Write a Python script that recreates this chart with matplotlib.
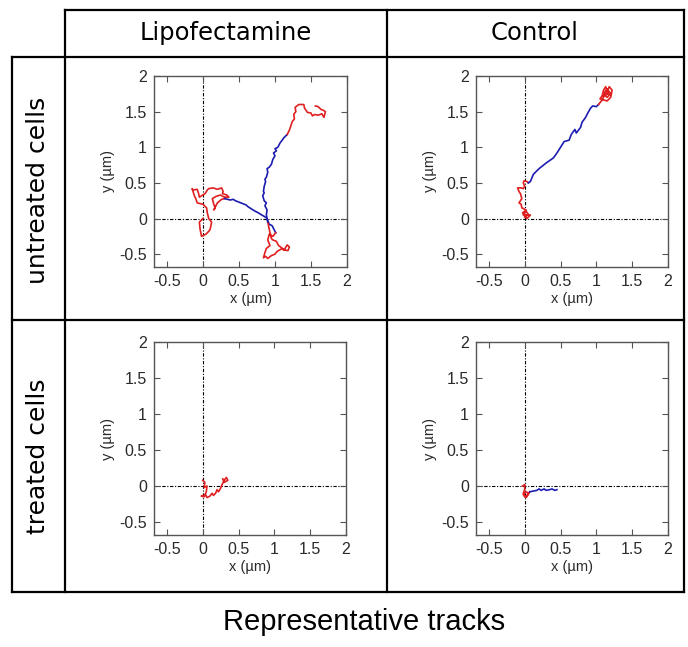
import matplotlib.pyplot as plt
from matplotlib.lines import Line2D
import numpy as np

plt.rcParams['axes.unicode_minus'] = False

# column / row headers
col_labels = ['Lipofectamine', 'Control']
row_labels = ['untreated cells', 'treated cells']
caption = 'Representative tracks'

RED = '#e02020'
BLUE = '#1c1cb0'

# tracks: list of (color, x, y) segments for each panel
# Lipofectamine, untreated
tl_red1_x = [0.0, -0.05, -0.04, -0.02, 0.04, 0.08, 0.1, 0.12, 0.08, 0.06, 0.05, 0.0, -0.08, -0.1, -0.12, -0.15, -0.14, -0.08, -0.06, -0.05, 0.03, 0.06, 0.08, 0.14, 0.2, 0.26, 0.28, 0.27, 0.33, 0.36, 0.3, 0.24, 0.18, 0.13, 0.15, 0.17, 0.15, 0.2, 0.26, 0.3]
tl_red1_y = [0.0, -0.05, -0.15, -0.25, -0.22, -0.18, -0.15, -0.05, 0.0, 0.08, 0.15, 0.2, 0.22, 0.28, 0.32, 0.42, 0.4, 0.41, 0.35, 0.3, 0.35, 0.4, 0.42, 0.43, 0.41, 0.43, 0.38, 0.35, 0.33, 0.3, 0.3, 0.33, 0.31, 0.28, 0.2, 0.15, 0.12, 0.22, 0.27, 0.28]
tl_blue1_x = [0.3, 0.34, 0.38, 0.42, 0.45, 0.5, 0.55, 0.6, 0.62, 0.68, 0.73, 0.77, 0.8, 0.85, 0.88, 0.9, 0.92, 0.96, 0.98, 1.01]
tl_blue1_y = [0.28, 0.27, 0.26, 0.27, 0.25, 0.23, 0.21, 0.19, 0.17, 0.13, 0.1, 0.08, 0.06, 0.03, 0.01, -0.03, -0.08, -0.1, -0.14, -0.2]
tl_red2_x = [1.01, 0.97, 0.92, 0.9, 0.93, 0.88, 0.86, 0.84, 0.87, 0.9, 0.95, 1.0, 1.03, 1.05, 1.1, 1.13, 1.15, 1.17, 1.2, 1.18, 1.12, 1.08, 1.05, 1.02, 0.97, 0.95, 0.92, 0.9]
tl_red2_y = [-0.2, -0.25, -0.22, -0.3, -0.38, -0.42, -0.48, -0.55, -0.53, -0.56, -0.52, -0.5, -0.46, -0.45, -0.42, -0.44, -0.4, -0.37, -0.4, -0.45, -0.44, -0.4, -0.38, -0.32, -0.3, -0.28, -0.15, -0.05]
tl_blue2_x = [0.9, 0.88, 0.89, 0.86, 0.88, 0.85, 0.83, 0.85, 0.84, 0.85, 0.87, 0.86, 0.88, 0.9, 0.89, 0.92, 0.95, 0.97, 1.0, 0.98, 1.02, 1.0, 1.04, 1.07, 1.1, 1.12, 1.15, 1.17]
tl_blue2_y = [-0.05, 0.05, 0.12, 0.18, 0.22, 0.25, 0.32, 0.36, 0.38, 0.45, 0.52, 0.55, 0.58, 0.65, 0.7, 0.72, 0.76, 0.83, 0.88, 0.92, 0.95, 0.98, 1.0, 1.06, 1.1, 1.13, 1.16, 1.18]
tl_red3_x = [1.17, 1.2, 1.22, 1.24, 1.27, 1.26, 1.29, 1.28, 1.33, 1.4, 1.41, 1.43, 1.45, 1.5, 1.52, 1.55, 1.6, 1.65, 1.68, 1.7, 1.67, 1.64, 1.6, 1.56]
tl_red3_y = [1.18, 1.24, 1.3, 1.36, 1.4, 1.46, 1.5, 1.56, 1.6, 1.6, 1.55, 1.52, 1.49, 1.48, 1.44, 1.46, 1.45, 1.47, 1.42, 1.5, 1.52, 1.53, 1.57, 1.58]

# Control, untreated
tr_red1_x = [0.0, 0.05, 0.02, -0.02, 0.08, 0.03, -0.03, 0.02, -0.04, -0.05, -0.08, -0.04, -0.06, -0.08, -0.1, -0.05, -0.02, 0.0, -0.02, -0.01, 0.03, 0.05]
tr_red1_y = [0.02, 0.06, 0.1, 0.05, 0.05, 0.0, 0.08, 0.12, 0.15, 0.2, 0.22, 0.28, 0.35, 0.38, 0.43, 0.43, 0.42, 0.45, 0.5, 0.53, 0.52, 0.5]
tr_blue_x = [0.05, 0.08, 0.12, 0.2, 0.3, 0.4, 0.45, 0.5, 0.55, 0.62, 0.65, 0.7, 0.72, 0.78, 0.8, 0.85, 0.88, 0.92, 0.95, 1.0, 1.03]
tr_blue_y = [0.5, 0.52, 0.62, 0.7, 0.78, 0.85, 0.92, 1.0, 1.08, 1.1, 1.18, 1.25, 1.2, 1.28, 1.35, 1.42, 1.48, 1.55, 1.58, 1.57, 1.6]
tr_red2_x = [1.03, 1.07, 1.1, 1.12, 1.15, 1.18, 1.2, 1.15, 1.12, 1.17, 1.13, 1.1, 1.08, 1.05, 1.15, 1.2, 1.22, 1.18, 1.14, 1.1]
tr_red2_y = [1.6, 1.65, 1.7, 1.78, 1.82, 1.78, 1.75, 1.7, 1.73, 1.75, 1.85, 1.8, 1.72, 1.68, 1.65, 1.7, 1.8, 1.85, 1.76, 1.72]

# Lipofectamine, treated
bl_red_x = [0.0, 0.03, 0.02, 0.06, 0.05, 0.02, -0.02, 0.04, 0.06, 0.1, 0.13, 0.15, 0.18, 0.2, 0.22, 0.25, 0.27, 0.3, 0.33, 0.35, 0.3, 0.28]
bl_red_y = [0.08, 0.05, -0.02, 0.0, -0.08, -0.15, -0.14, -0.12, -0.16, -0.14, -0.1, -0.13, -0.1, -0.05, -0.08, -0.03, 0.02, 0.08, 0.12, 0.08, 0.05, 0.1]

# Control, treated
br_red_x = [-0.03, 0.0, 0.0, -0.02, 0.0, 0.03, 0.05, 0.02, -0.02, 0.02, 0.05, 0.07]
br_red_y = [0.0, 0.02, -0.05, -0.1, -0.15, -0.13, -0.1, -0.08, -0.12, -0.16, -0.12, -0.08]
br_blue_x = [0.07, 0.12, 0.17, 0.2, 0.23, 0.27, 0.3, 0.35, 0.38, 0.42, 0.45]
br_blue_y = [-0.08, -0.07, -0.06, -0.04, -0.06, -0.04, -0.06, -0.05, -0.04, -0.06, -0.05]

panels = [
    [(RED, tl_red1_x, tl_red1_y), (BLUE, tl_blue1_x, tl_blue1_y), (RED, tl_red2_x, tl_red2_y),
     (BLUE, tl_blue2_x, tl_blue2_y), (RED, tl_red3_x, tl_red3_y)],
    [(RED, tr_red1_x, tr_red1_y), (BLUE, tr_blue_x, tr_blue_y), (RED, tr_red2_x, tr_red2_y)],
    [(RED, bl_red_x, bl_red_y)],
    [(RED, br_red_x, br_red_y), (BLUE, br_blue_x, br_blue_y)],
]

ticks = [-0.5, 0, 0.5, 1, 1.5, 2]
tick_labels = ['-0.5', '0', '0.5', '1', '1.5', '2']

W, H = 688, 647
fig = plt.figure(figsize=(W / 100, H / 100), dpi=100)

# axes boxes in pixels: left, top, right, bottom
boxes = [(154, 76, 347, 267), (476, 76, 668, 267), (154, 342, 346, 535), (476, 342, 668, 535)]

for (l, t, r, b), tracks in zip(boxes, panels):
    ax = fig.add_axes([l / W, 1 - b / H, (r - l) / W, (b - t) / H])
    ax.axhline(0, color='black', lw=0.8, ls=(0, (3, 1.5, 1, 1.5)), zorder=1)
    ax.axvline(0, color='black', lw=0.8, ls=(0, (3, 1.5, 1, 1.5)), zorder=1)
    for c, xs, ys in tracks:
        ax.plot(xs, ys, color=c, lw=1.2, zorder=3)
    ax.set_xlim(-0.68, 2)
    ax.set_ylim(-0.68, 2)
    ax.set_xticks(ticks, tick_labels)
    ax.set_yticks(ticks, tick_labels)
    ax.tick_params(direction='in', length=4, width=0.8, top=True, right=True,
                   labelsize=11.5, colors='#555555', labelcolor='#2a2a2a', pad=5)
    for s in ax.spines.values():
        s.set_color('#555555')
        s.set_linewidth(1.0)
    ax.set_xlabel('x (\u00b5m)', fontsize=10.5, color='#2a2a2a', labelpad=2, family='Liberation Sans')
    ax.set_ylabel('y (\u00b5m)', fontsize=10.5, color='#2a2a2a', labelpad=3, family='Liberation Sans')
    for lab in ax.get_xticklabels() + ax.get_yticklabels():
        lab.set_family('Liberation Sans')

# table grid
def hline(y, x0, x1):
    fig.add_artist(Line2D([x0 / W, x1 / W], [1 - y / H, 1 - y / H], color='black', lw=1.6))

def vline(x, y0, y1):
    fig.add_artist(Line2D([x / W, x / W], [1 - y0 / H, 1 - y1 / H], color='black', lw=1.6))

hline(10, 65, 684)
hline(57, 12, 684)
hline(320, 12, 684)
hline(592, 12, 684)
vline(12, 57, 592)
vline(65, 10, 592)
vline(387, 10, 592)
vline(684, 10, 592)

for i, lab in enumerate(col_labels):
    cx = [226, 535][i]
    fig.text(cx / W, 1 - 33 / H, lab, ha='center', va='center', fontsize=17.5, family='DejaVu Sans')

for i, lab in enumerate(row_labels):
    cy = [190, 456][i]
    fig.text(38 / W, 1 - cy / H, lab, ha='center', va='center', rotation=90, fontsize=18, family='DejaVu Sans')

fig.text(364 / W, 1 - 622 / H, caption, ha='center', va='center', fontsize=21, family='Liberation Sans')

fig.savefig('out.png', dpi=100)
